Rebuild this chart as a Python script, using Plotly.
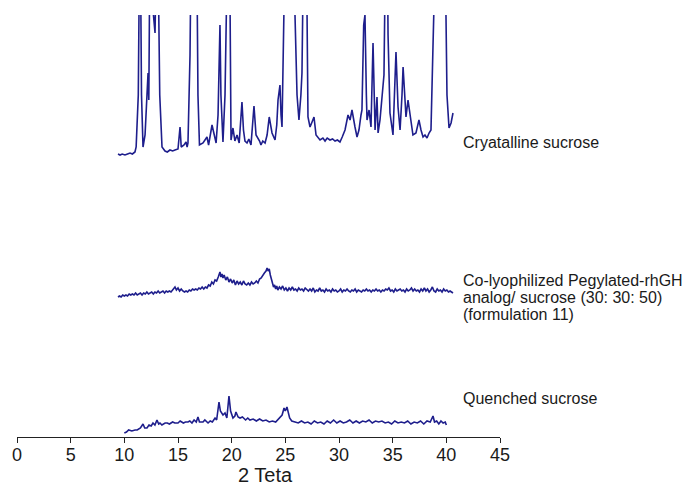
import plotly.graph_objects as go

# X-ray powder diffraction patterns (2-theta in degrees, intensity in arbitrary units)

cryst_2theta = [
    9.41, 9.60, 9.80, 10.06, 10.30, 10.53, 10.75, 10.99, 11.10, 11.18, 11.30, 11.46, 11.60, 11.74,
    11.93, 12.11, 12.21, 12.28, 12.39, 12.55, 12.86, 13.04, 13.14, 13.30, 13.51, 13.79, 14.00, 14.25,
    14.50, 14.72, 15.00, 15.19, 15.30, 15.56, 15.75, 15.85, 15.93, 16.12, 16.30, 16.68, 16.86, 17.00,
    17.33, 17.70, 17.85, 18.17, 18.35, 18.55, 18.73, 18.91, 19.00, 19.19, 19.38, 19.57, 19.75, 19.94,
    20.12, 20.30, 20.50, 20.70, 20.96, 21.10, 21.24, 21.43, 21.60, 21.80, 22.08, 22.27, 22.45, 22.60,
    22.73, 22.90, 23.11, 23.30, 23.50, 23.76, 24.04, 24.20, 24.32, 24.50, 24.60, 24.69, 24.88, 25.06,
    25.30, 25.70, 25.90, 26.09, 26.27, 26.45, 26.55, 26.74, 26.93, 27.11, 27.30, 27.49, 27.67, 27.86,
    28.04, 28.23, 28.50, 28.70, 28.90, 29.16, 29.40, 29.63, 29.85, 30.09, 30.30, 30.56, 30.84, 31.03,
    31.21, 31.35, 31.49, 31.68, 31.86, 32.05, 32.14, 32.30, 32.42, 32.55, 32.61, 32.80, 32.98, 33.17,
    33.36, 33.54, 33.64, 33.82, 34.01, 34.19, 34.38, 34.47, 34.57, 34.75, 35.03, 35.31, 35.50, 35.69,
    35.87, 35.97, 36.15, 36.24, 36.43, 36.71, 36.89, 37.17, 37.45, 37.64, 37.83, 38.01, 38.20, 38.39,
    38.57, 38.76, 38.94, 39.20, 39.78, 40.06, 40.25, 40.44, 40.62,
]
cryst_int = [
    1, 0, 1, 0, 1, 2, 1, 3, 8, 35, 60, 260, 60, 8,
    20, 60, 82, 55, 220, 160, 122, 240, 200, 60, 8, 4, 3, 5,
    4, 5, 6, 28, 8, 10, 13, 8, 12, 100, 300, 300, 60, 10,
    12, 18, 10, 30, 20, 12, 40, 130, 60, 13, 60, 300, 300, 15,
    27, 14, 20, 12, 53, 25, 14, 12, 16, 10, 49, 20, 17, 14,
    10, 14, 12, 20, 38, 22, 15, 30, 55, 70, 40, 28, 150, 300,
    320, 320, 140, 60, 35, 60, 82, 250, 250, 38, 28, 33, 38, 20,
    17, 15, 17, 14, 17, 15, 16, 14, 15, 13, 18, 25, 40, 35,
    45, 35, 28, 18, 25, 40, 45, 130, 140, 60, 35, 45, 28, 112,
    25, 58, 22, 35, 62, 80, 250, 250, 120, 42, 20, 103, 48, 25,
    60, 88, 55, 38, 55, 30, 20, 22, 35, 25, 18, 20, 17, 22,
    25, 110, 200, 300, 300, 60, 27, 32, 42,
]

colyo_2theta = [
    9.41, 9.55, 9.70, 9.85, 10.00, 10.15, 10.30, 10.45, 10.60, 10.75, 10.90, 11.05, 11.20, 11.35,
    11.50, 11.65, 11.80, 11.95, 12.10, 12.25, 12.40, 12.55, 12.70, 12.85, 13.00, 13.15, 13.30, 13.45,
    13.60, 13.75, 13.90, 14.05, 14.20, 14.35, 14.50, 14.65, 14.72, 14.85, 15.00, 15.15, 15.30, 15.45,
    15.60, 15.75, 15.90, 16.05, 16.20, 16.35, 16.50, 16.65, 16.80, 16.95, 17.10, 17.25, 17.40, 17.55,
    17.70, 17.85, 18.00, 18.15, 18.30, 18.45, 18.60, 18.75, 18.91, 19.00, 19.10, 19.19, 19.30, 19.45,
    19.60, 19.75, 19.90, 20.05, 20.20, 20.35, 20.50, 20.65, 20.80, 20.95, 21.10, 21.25, 21.40, 21.55,
    21.70, 21.85, 22.00, 22.15, 22.30, 22.45, 22.60, 22.75, 22.90, 23.05, 23.20, 23.30, 23.40, 23.50,
    23.60, 23.75, 23.90, 24.00, 24.10, 24.20, 24.30, 24.45, 24.60, 24.75, 24.90, 25.05, 25.20, 25.35,
    25.50, 25.65, 25.80, 25.95, 26.10, 26.25, 26.40, 26.55, 26.70, 26.85, 27.00, 27.15, 27.30, 27.45,
    27.60, 27.75, 27.90, 28.05, 28.20, 28.35, 28.50, 28.65, 28.80, 28.95, 29.10, 29.25, 29.40, 29.55,
    29.70, 29.85, 30.00, 30.15, 30.30, 30.45, 30.60, 30.75, 30.90, 31.05, 31.20, 31.35, 31.50, 31.65,
    31.80, 31.95, 32.10, 32.25, 32.40, 32.55, 32.70, 32.85, 33.00, 33.15, 33.30, 33.45, 33.60, 33.75,
    33.90, 34.05, 34.20, 34.35, 34.50, 34.65, 34.80, 34.95, 35.10, 35.25, 35.40, 35.55, 35.70, 35.85,
    36.00, 36.15, 36.30, 36.45, 36.60, 36.75, 36.90, 37.05, 37.20, 37.35, 37.50, 37.65, 37.80, 37.95,
    38.10, 38.25, 38.40, 38.55, 38.70, 38.85, 39.00, 39.15, 39.30, 39.45, 39.60, 39.75, 39.90, 40.05,
    40.20, 40.35, 40.50, 40.62,
]
colyo_int = [
    0, 1, 0, 2, 1, 2, 1, 3, 2, 3, 2, 4, 2, 3,
    4, 2, 4, 3, 5, 3, 4, 5, 3, 5, 4, 6, 4, 5,
    6, 4, 6, 5, 6, 5, 7, 8, 10, 7, 9, 6, 8, 6,
    5, 6, 5, 7, 6, 8, 7, 8, 7, 9, 8, 10, 8, 10,
    9, 12, 11, 15, 13, 17, 16, 20, 25, 20, 23, 19, 22, 17,
    20, 15, 18, 14, 17, 12, 16, 13, 15, 12, 16, 13, 12, 14,
    12, 15, 13, 14, 16, 14, 18, 19, 22, 24, 26, 29, 26, 28,
    22, 15, 10, 12, 8, 11, 7, 10, 8, 11, 7, 9, 6, 9,
    7, 10, 7, 8, 6, 9, 7, 8, 6, 9, 7, 6, 8, 6,
    9, 5, 7, 6, 9, 6, 7, 5, 8, 6, 7, 5, 8, 6,
    7, 5, 6, 8, 5, 7, 6, 8, 6, 5, 7, 6, 8, 5,
    7, 6, 5, 7, 6, 8, 6, 7, 5, 7, 6, 8, 6, 7,
    5, 7, 6, 8, 7, 9, 6, 7, 5, 8, 6, 7, 8, 6,
    7, 5, 8, 6, 7, 9, 6, 8, 6, 7, 5, 8, 6, 9,
    6, 8, 5, 7, 10, 6, 5, 8, 6, 7, 5, 8, 6, 7,
    5, 6, 5, 4,
]

quench_2theta = [
    10.00, 10.20, 10.40, 10.70, 11.00, 11.20, 11.50, 11.74, 11.90, 12.11, 12.30, 12.50, 12.67, 12.85,
    13.04, 13.20, 13.32, 13.50, 13.80, 14.00, 14.20, 14.50, 14.70, 15.00, 15.20, 15.50, 15.70, 15.93,
    16.10, 16.30, 16.50, 16.70, 16.86, 17.00, 17.33, 17.50, 17.80, 18.00, 18.20, 18.45, 18.60, 18.82,
    18.95, 19.19, 19.38, 19.55, 19.75, 19.90, 20.12, 20.30, 20.40, 20.60, 20.78, 21.00, 21.30, 21.50,
    21.70, 22.00, 22.30, 22.60, 22.90, 23.20, 23.50, 23.80, 24.10, 24.30, 24.50, 24.70, 24.88, 25.00,
    25.15, 25.30, 25.40, 25.60, 25.90, 26.20, 26.50, 26.80, 27.10, 27.40, 27.70, 28.00, 28.30, 28.60,
    28.90, 29.20, 29.50, 29.80, 30.10, 30.40, 30.70, 31.00, 31.30, 31.60, 31.90, 32.20, 32.50, 32.80,
    33.10, 33.40, 33.70, 34.00, 34.30, 34.60, 34.90, 35.20, 35.50, 35.80, 36.10, 36.40, 36.70, 37.00,
    37.30, 37.60, 37.90, 38.20, 38.50, 38.76, 38.90, 39.10, 39.30, 39.50, 39.70, 39.90, 40.00,
]
quench_int = [
    0, 1, 3, 2, 3, 3, 5, 9, 5, 5, 8, 7, 10, 8,
    13, 9, 10, 8, 10, 10, 9, 11, 10, 10, 12, 10, 11, 11,
    12, 10, 13, 11, 16, 11, 11, 13, 10, 12, 11, 15, 13, 31,
    22, 18, 20, 15, 37, 22, 15, 17, 21, 16, 15, 16, 13, 15,
    13, 14, 12, 14, 12, 13, 11, 12, 11, 13, 16, 18, 25, 22,
    26, 20, 15, 12, 11, 10, 12, 10, 11, 9, 12, 10, 11, 9,
    12, 10, 13, 10, 12, 10, 11, 13, 10, 12, 10, 12, 11, 13,
    10, 12, 11, 12, 10, 11, 9, 12, 10, 11, 10, 12, 9, 11,
    10, 12, 9, 12, 11, 17, 11, 12, 9, 12, 10, 11, 8,
]

# vertical stacking offsets for each pattern
offsets = {"cryst": 282, "colyo": 140, "quench": 4}

# sample labels: one entry per text line, with its vertical position
label_lines = [
    ("Cryatalline sucrose", 295),
    ("Co-lyophilized Pegylated-rhGH", 157),
    ("analog/ sucrose (30: 30: 50)", 140),
    ("(formulation 11)", 123),
    ("Quenched sucrose", 39),
]

tick_vals = [0, 5, 10, 15, 20, 25, 30, 35, 40, 45]
x_title = "2 Teta"

line_color = "#1e1e8c"
text_color = "#1a1a1a"
font_family = "Liberation Sans, Arial, sans-serif"

fig = go.Figure()
for xs, ys, key in [
    (cryst_2theta, cryst_int, "cryst"),
    (colyo_2theta, colyo_int, "colyo"),
    (quench_2theta, quench_int, "quench"),
]:
    fig.add_trace(go.Scatter(
        x=xs, y=[v + offsets[key] for v in ys], mode="lines",
        line=dict(color=line_color, width=1.6), showlegend=False, hoverinfo="skip",
    ))

for text, yv in label_lines:
    fig.add_annotation(
        x=41.4, y=yv, xref="x", yref="y", text=text, showarrow=False,
        xanchor="left", yanchor="middle", align="left",
        font=dict(family=font_family, size=16, color=text_color),
    )

# axis title, placed below the tick labels
fig.add_annotation(
    x=0.5155, y=-0.09, xref="paper", yref="paper", text=x_title, showarrow=False,
    xanchor="center", yanchor="middle",
    font=dict(family=font_family, size=20, color=text_color),
)

fig.update_layout(
    width=685, height=486,
    margin=dict(l=17, r=185, t=15, b=49),
    paper_bgcolor="white", plot_bgcolor="white",
    font=dict(family=font_family, color=text_color),
)
fig.update_xaxes(
    range=[0, 45], tickvals=tick_vals, ticks="outside", ticklen=5, tickwidth=1,
    tickcolor="#222", showline=True, linecolor="#222", linewidth=1,
    showgrid=False, zeroline=False, tickfont=dict(size=18), automargin=False,
    ticklabelstandoff=-4,
)
fig.update_yaxes(range=[0, 422], visible=False, showgrid=False, zeroline=False,
                 automargin=False)

fig.write_html("out.html")
